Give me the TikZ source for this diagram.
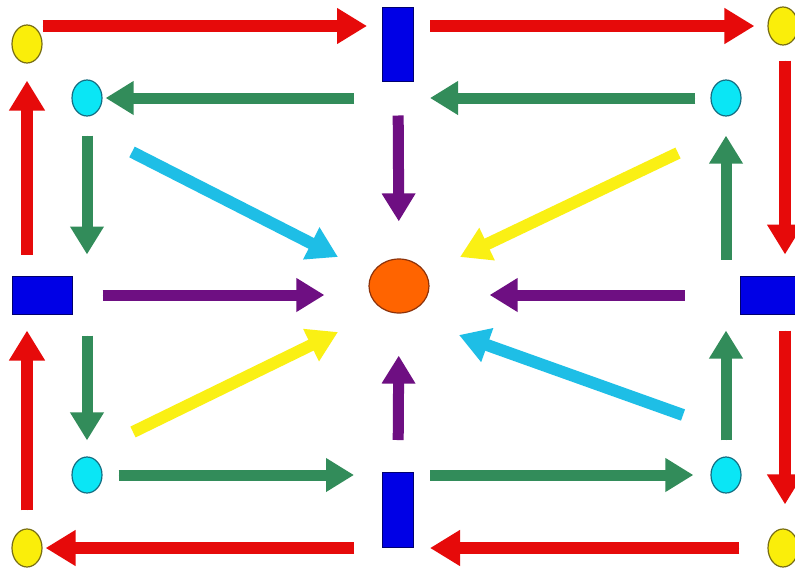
\documentclass[tikz,border=0pt]{standalone}
\usetikzlibrary{arrows.meta,shapes.geometric,calc}
\definecolor{cRed}{RGB}{230,10,10}
\definecolor{cGreen}{RGB}{50,140,90}
\definecolor{cPurple}{RGB}{110,15,130}
\definecolor{cCyanA}{RGB}{30,190,230}
\definecolor{cYellowA}{RGB}{250,240,20}
\definecolor{cYel}{RGB}{250,238,10}
\definecolor{cYelB}{RGB}{120,110,20}
\definecolor{cCyan}{RGB}{10,230,245}
\definecolor{cCyanB}{RGB}{20,110,130}
\definecolor{cBlue}{RGB}{0,0,230}
\definecolor{cBlueB}{RGB}{0,0,110}
\definecolor{cOrange}{RGB}{255,100,0}
\definecolor{cOrangeB}{RGB}{140,50,10}
\tikzset{
  ydot/.style={ellipse,draw=cYelB,fill=cYel,line width=1.2pt,inner sep=0pt,minimum width=30pt,minimum height=38pt},
  cdot/.style={ellipse,draw=cCyanB,fill=cCyan,line width=1.2pt,inner sep=0pt,minimum width=30pt,minimum height=36pt},
  bbox/.style={rectangle,draw=cBlueB,fill=cBlue,line width=1pt,inner sep=0pt},
  odot/.style={ellipse,draw=cOrangeB,fill=cOrange,line width=1.2pt,inner sep=0pt,minimum width=60pt,minimum height=54pt},
  bigarr/.style={line width=12pt,-{Triangle[width=34pt,length=30pt]}},
  redarr/.style={bigarr,draw=cRed,fill=cRed},
  grnarr/.style={line width=11pt,-{Triangle[width=32pt,length=28pt]},draw=cGreen,fill=cGreen},
  purarr/.style={line width=11pt,-{Triangle[width=32pt,length=28pt]},draw=cPurple,fill=cPurple},
  cyaarr/.style={bigarr,draw=cCyanA,fill=cCyanA},
  yelarr/.style={bigarr,draw=cYellowA,fill=cYellowA}
}
\begin{document}
\begin{tikzpicture}[x=1pt,y=-1pt]
\useasboundingbox[fill=white] (0,0) rectangle (795,568);
% nodes
\node[ydot] (yTL) at (27,44) {};
\node[ydot] (yTR) at (783,26) {};
\node[ydot] (yBL) at (27,548) {};
\node[ydot] (yBR) at (783,548) {};
\node[cdot] (cTL) at (87,98) {};
\node[cdot] (cTR) at (726,98) {};
\node[cdot] (cBL) at (87,475) {};
\node[cdot] (cBR) at (726,475) {};
\node[bbox,minimum width=31pt,minimum height=74pt] (bT) at (398,44) {};
\node[bbox,minimum width=31pt,minimum height=75pt] (bB) at (398,510) {};
\node[bbox,minimum width=60pt,minimum height=38pt] (bL) at (42,295) {};
\node[bbox,minimum width=60pt,minimum height=38pt] (bR) at (770,295) {};
\node[odot] (O) at (399,286) {};
% coordinates for diagonal arrows
\coordinate (d1s) at (132,152);
\coordinate (d1e) at (338,257);
\coordinate (d2s) at (683,415);
\coordinate (d2e) at (459,335);
\coordinate (d3s) at (678,153);
\coordinate (d3e) at (460,257);
\coordinate (d4s) at (133,432);
\coordinate (d4e) at (338,332);
% red outer loop
\draw[redarr,shorten >=15pt] (yTL.east |- yTR) -- (bT.west |- yTR);
\draw[redarr,shorten <=16pt,shorten >=13pt] (bT.east |- yTR) -- (yTR.west);
\draw[redarr,shorten <=15pt,shorten >=21pt] ([xshift=2pt]yTR.south) -- ([xshift=2pt]yTR |- bR.north);
\draw[redarr,shorten <=16pt,shorten >=24pt] ([xshift=2pt]yTR |- bR.south) -- ([xshift=2pt]yBR.north);
\draw[redarr,shorten <=28pt,shorten >=16pt] (yBR.west) -- (bB.east |- yBR);
\draw[redarr,shorten <=28pt,shorten >=3pt] (bB.west |- yBL) -- (yBL.east);
\draw[redarr,shorten <=18pt,shorten >=16pt] (yBL.north) -- (yBL |- bL.south);
\draw[redarr,shorten <=21pt,shorten >=17pt] (yBL |- bL.north) -- (yTL.south);
% green inner loop
\draw[grnarr,shorten <=28pt,shorten >=3pt] (bT.west |- cTL) -- (cTL.east);
\draw[grnarr,shorten <=15pt,shorten >=16pt] (cTR.west) -- (bT.east |- cTR);
\draw[grnarr,shorten <=19pt,shorten >=21pt] (cTL.south) -- (cTL |- bL.north);
\draw[grnarr,shorten <=21pt,shorten >=16pt] (cTL |- bL.south) -- (cBL.north);
\draw[grnarr,shorten <=16pt,shorten >=28pt] (cBL.east) -- (bB.west |- cBL);
\draw[grnarr,shorten <=16pt,shorten >=17pt] (bB.east |- cBR) -- (cBR.west);
\draw[grnarr,shorten <=16pt,shorten >=16pt] (cBR.north) -- (cBR |- bR.south);
\draw[grnarr,shorten <=16pt,shorten >=19pt] (cBR |- bR.north) -- (cTR.south);
% purple to centre
\draw[purarr,shorten <=34pt,shorten >=37pt] (bT.south) -- (O.north);
\draw[purarr,shorten <=32pt,shorten >=42pt] (bB.north) -- (O.south);
\draw[purarr,shorten <=30pt,shorten >=44pt] (bL.east) -- (O.west |- bL);
\draw[purarr,shorten <=55pt,shorten >=60pt] (bR.west) -- (O.east |- bR);
% diagonals
\draw[cyaarr] (d1s) -- (d1e);
\draw[cyaarr] (d2s) -- (d2e);
\draw[yelarr] (d3s) -- (d3e);
\draw[yelarr] (d4s) -- (d4e);
\end{tikzpicture}
\end{document}
